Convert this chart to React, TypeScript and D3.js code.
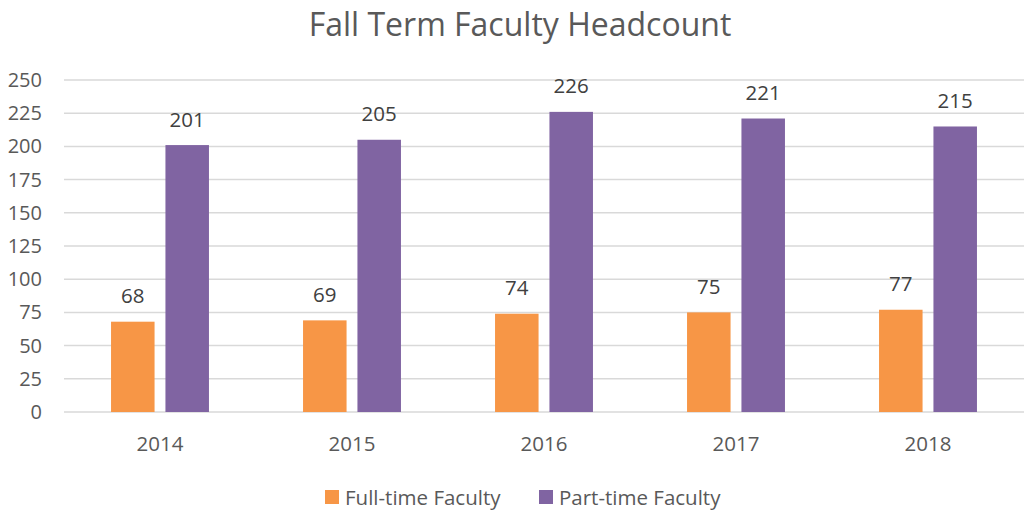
import React from 'react'
import * as d3 from 'd3'

// chart data
const years = ['2014', '2015', '2016', '2017', '2018']
const fullTime = [68, 69, 74, 75, 77]
const partTime = [201, 205, 226, 221, 215]
const seriesNames = ['Full-time Faculty', 'Part-time Faculty']
const yTicks = [0, 25, 50, 75, 100, 125, 150, 175, 200, 225, 250]

const colors = ['#F79646', '#8064A2']
const font = '"Open Sans", sans-serif'

export default function App() {
  const width = 1029
  const height = 513
  const left = 64
  const right = 1024
  const top = 80
  const bottom = 412

  const x0 = d3
    .scaleBand()
    .domain(years)
    .range([left, right])
    .paddingInner(0.49)
    .paddingOuter(0.245)
  const x1 = d3
    .scaleBand()
    .domain(seriesNames)
    .range([0, x0.bandwidth()])
    .paddingInner(0.2)
  const y = d3.scaleLinear().domain([0, 250]).range([bottom, top])

  const series = [fullTime, partTime]

  return (
    <svg
      width={width}
      height={height}
      style={{ position: 'absolute', left: 0, top: 0, background: '#fff' }}
    >
      <text
        x={520}
        y={36}
        textAnchor="middle"
        fontFamily={font}
        fontSize={32}
        fill="#595959"
      >
        Fall Term Faculty Headcount
      </text>

      {/* gridlines */}
      {yTicks.map((t) => (
        <line
          key={t}
          x1={left}
          x2={right}
          y1={y(t)}
          y2={y(t)}
          stroke="#D9D9D9"
          strokeWidth={1.5}
        />
      ))}
      {yTicks.map((t) => (
        <text
          key={'l' + t}
          x={42}
          y={y(t) + 7}
          textAnchor="end"
          fontFamily={font}
          fontSize={20}
          fill="#595959"
        >
          {t}
        </text>
      ))}

      {/* bars */}
      {years.map((yr, i) => (
        <g key={yr} transform={`translate(${x0(yr)},0)`}>
          {seriesNames.map((s, j) => {
            const v = series[j][i]
            const bx = x1(s) as number
            return (
              <g key={s}>
                <rect
                  x={bx}
                  y={y(v)}
                  width={x1.bandwidth()}
                  height={y(0) - y(v)}
                  fill={colors[j]}
                />
                <text
                  x={bx + x1.bandwidth() / 2}
                  y={y(v) - 18.5}
                  textAnchor="middle"
                  fontFamily={font}
                  fontSize={20.5}
                  fill="#404040"
                >
                  {v}
                </text>
              </g>
            )
          })}
          <text
            x={x0.bandwidth() / 2}
            y={451}
            textAnchor="middle"
            fontFamily={font}
            fontSize={20.5}
            fill="#595959"
          >
            {yr}
          </text>
        </g>
      ))}

      {/* legend */}
      {seriesNames.map((s, j) => {
        const lx = j === 0 ? 325 : 539
        return (
          <g key={'lg' + s}>
            <rect x={lx} y={490} width={14} height={14} fill={colors[j]} />
            <text
              x={lx + 20}
              y={504.5}
              fontFamily={font}
              fontSize={20.5}
              fill="#595959"
            >
              {s}
            </text>
          </g>
        )
      })}
    </svg>
  )
}
